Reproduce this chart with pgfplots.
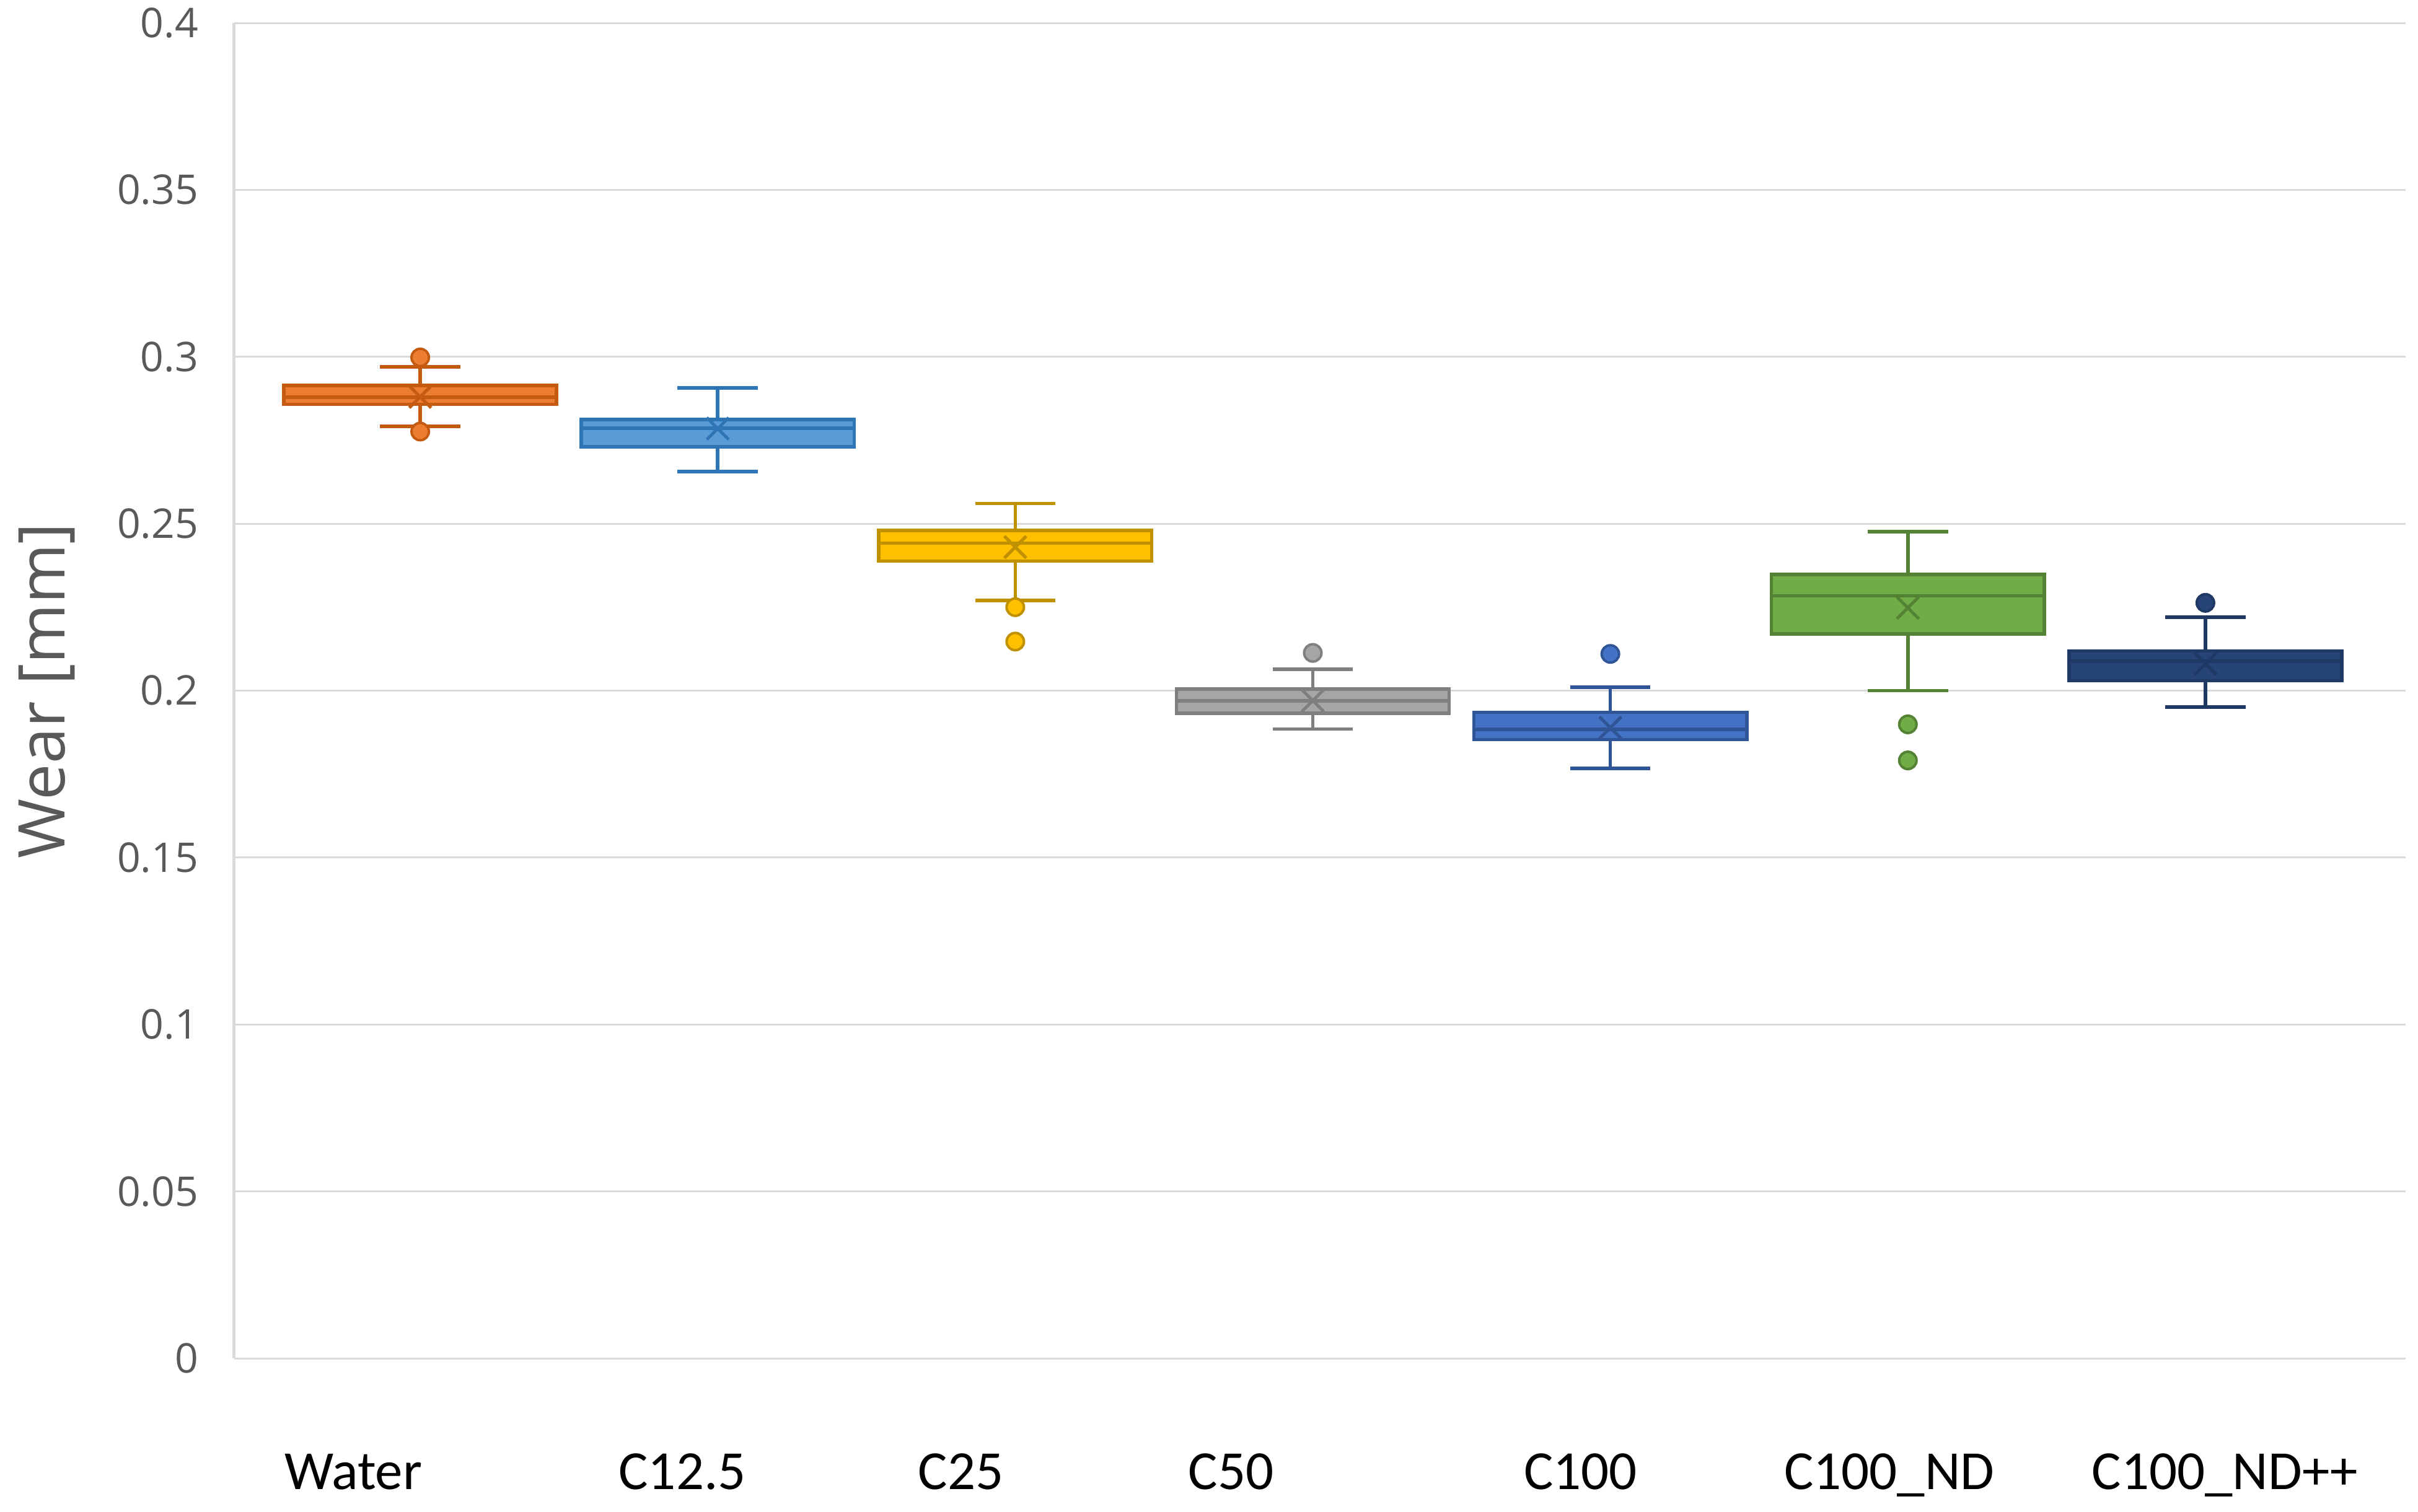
\documentclass[border=0pt]{standalone}
\usepackage{fontspec}
\setmainfont{Carlito}
\newfontfamily\osans{Open Sans}
\usepackage{pgfplots}
\pgfplotsset{compat=1.18}
\definecolor{gridgray}{HTML}{D9D9D9}
\definecolor{tickgray}{HTML}{595959}
\definecolor{wf}{HTML}{ED7D31}\definecolor{wb}{HTML}{C55A11}
\definecolor{af}{HTML}{5B9BD5}\definecolor{ab}{HTML}{2E75B6}
\definecolor{bf}{HTML}{FFC000}\definecolor{bb}{HTML}{BF9000}
\definecolor{cf}{HTML}{A5A5A5}\definecolor{cb}{HTML}{7F7F7F}
\definecolor{df}{HTML}{4472C4}\definecolor{db}{HTML}{2F5597}
\definecolor{ef}{HTML}{70AD47}\definecolor{eb}{HTML}{548235}
\definecolor{ff}{HTML}{264478}\definecolor{fb}{HTML}{1F3864}
\pgfplotsset{
  wsk/.style={draw=#1, line width=0.55pt, mark=none, solid},
  bxs/.style 2 args={draw=#2, fill=#1, line width=0.55pt, mark=none, solid},
  mn/.style={only marks, mark=x, mark size=2.5pt, draw=#1, line width=0.5pt},
  ol/.style 2 args={only marks, mark=*, mark size=1.4pt, draw=#2, fill=#1, line width=0.4pt},
}
\begin{document}
\begin{tikzpicture}
\path[use as bounding box] (-37.8pt,-24.7pt) rectangle (352.4pt,219.2pt);
\begin{axis}[
  scale only axis, width=350.4pt, height=215.5pt,
  xmin=0.375, xmax=7.673, ymin=0, ymax=0.4,
  axis line style={draw=none},
  major tick length=0pt,
  ymajorgrids, grid style={draw=gridgray, line width=0.3pt},
  ytick={0,0.05,0.1,0.15,0.2,0.25,0.3,0.35,0.4},
  yticklabels={0,0.05,0.1,0.15,0.2,0.25,0.3,0.35,0.4},
  yticklabel style={font=\osans\fontsize{6.6}{7}\selectfont, text=tickgray, anchor=east, inner sep=0pt, xshift=-5.6pt},
  xtick={0.775,1.881,2.817,3.725,4.9,5.9375,7.065},
  xticklabels={Water,C12.5,C25,C50,C100,C100\_ND,C100\_ND++},
  xticklabel style={font=\fontsize{8.9}{10}\selectfont, text=black, anchor=base, inner sep=0pt, yshift=-21.1pt},
  clip=false,
]
\draw[gridgray, line width=0.5pt] (rel axis cs:0,0) -- (rel axis cs:0,1);
\node[rotate=90, anchor=base, font=\osans\fontsize{10.4}{12}\selectfont, text=tickgray, inner sep=0pt] at ([xshift=-27.3pt]rel axis cs:0,0.5) {Wear [mm]};

% ---------- Water (pos 1)
\addplot[wsk=wb] coordinates {(1,0.2792) (1,0.297)};
\addplot[wsk=wb] coordinates {(0.865,0.297) (1.135,0.297)};
\addplot[wsk=wb] coordinates {(0.865,0.2792) (1.135,0.2792)};
\addplot[bxs={wf}{wb}] coordinates {(0.5415,0.2858) (1.4585,0.2858) (1.4585,0.2914) (0.5415,0.2914)} -- cycle;
\addplot[wsk=wb] coordinates {(0.5415,0.2879) (1.4585,0.2879)};
\addplot[mn=wb] coordinates {(1,0.288)};
\addplot[ol={wf}{wb}] coordinates {(1,0.2998) (1,0.2776)};

% ---------- C12.5 (pos 2)
\addplot[wsk=ab] coordinates {(2,0.2656) (2,0.2907)};
\addplot[wsk=ab] coordinates {(1.865,0.2907) (2.135,0.2907)};
\addplot[wsk=ab] coordinates {(1.865,0.2656) (2.135,0.2656)};
\addplot[bxs={af}{ab}] coordinates {(1.5415,0.273) (2.4585,0.273) (2.4585,0.2812) (1.5415,0.2812)} -- cycle;
\addplot[wsk=ab] coordinates {(1.5415,0.2786) (2.4585,0.2786)};
\addplot[mn=ab] coordinates {(2,0.2785)};

% ---------- C25 (pos 3)
\addplot[wsk=bb] coordinates {(3,0.227) (3,0.2561)};
\addplot[wsk=bb] coordinates {(2.865,0.2561) (3.135,0.2561)};
\addplot[wsk=bb] coordinates {(2.865,0.227) (3.135,0.227)};
\addplot[bxs={bf}{bb}] coordinates {(2.5415,0.2388) (3.4585,0.2388) (3.4585,0.248) (2.5415,0.248)} -- cycle;
\addplot[wsk=bb] coordinates {(2.5415,0.2442) (3.4585,0.2442)};
\addplot[mn=bb] coordinates {(3,0.243)};
\addplot[ol={bf}{bb}] coordinates {(3,0.225) (3,0.2147)};

% ---------- C50 (pos 4)
\addplot[wsk=cb] coordinates {(4,0.1885) (4,0.2064)};
\addplot[wsk=cb] coordinates {(3.865,0.2064) (4.135,0.2064)};
\addplot[wsk=cb] coordinates {(3.865,0.1885) (4.135,0.1885)};
\addplot[bxs={cf}{cb}] coordinates {(3.5415,0.1932) (4.4585,0.1932) (4.4585,0.2005) (3.5415,0.2005)} -- cycle;
\addplot[wsk=cb] coordinates {(3.5415,0.1969) (4.4585,0.1969)};
\addplot[mn=cb] coordinates {(4,0.197)};
\addplot[ol={cf}{cb}] coordinates {(4,0.2113)};

% ---------- C100 (pos 5)
\addplot[wsk=db] coordinates {(5,0.1767) (5,0.201)};
\addplot[wsk=db] coordinates {(4.865,0.201) (5.135,0.201)};
\addplot[wsk=db] coordinates {(4.865,0.1767) (5.135,0.1767)};
\addplot[bxs={df}{db}] coordinates {(4.5415,0.1853) (5.4585,0.1853) (5.4585,0.1935) (4.5415,0.1935)} -- cycle;
\addplot[wsk=db] coordinates {(4.5415,0.1884) (5.4585,0.1884)};
\addplot[mn=db] coordinates {(5,0.1889)};
\addplot[ol={df}{db}] coordinates {(5,0.211)};

% ---------- C100_ND (pos 6)
\addplot[wsk=eb] coordinates {(6,0.2) (6,0.2476)};
\addplot[wsk=eb] coordinates {(5.865,0.2476) (6.135,0.2476)};
\addplot[wsk=eb] coordinates {(5.865,0.2) (6.135,0.2)};
\addplot[bxs={ef}{eb}] coordinates {(5.5415,0.217) (6.4585,0.217) (6.4585,0.2348) (5.5415,0.2348)} -- cycle;
\addplot[wsk=eb] coordinates {(5.5415,0.2284) (6.4585,0.2284)};
\addplot[mn=eb] coordinates {(6,0.2248)};
\addplot[ol={ef}{eb}] coordinates {(6,0.1899) (6,0.1791)};

% ---------- C100_ND++ (pos 7)
\addplot[wsk=fb] coordinates {(7,0.1951) (7,0.222)};
\addplot[wsk=fb] coordinates {(6.865,0.222) (7.135,0.222)};
\addplot[wsk=fb] coordinates {(6.865,0.1951) (7.135,0.1951)};
\addplot[bxs={ff}{fb}] coordinates {(6.5415,0.203) (7.4585,0.203) (7.4585,0.2119) (6.5415,0.2119)} -- cycle;
\addplot[wsk=fb] coordinates {(6.5415,0.2088) (7.4585,0.2088)};
\addplot[mn=fb] coordinates {(7,0.208)};
\addplot[ol={ff}{fb}] coordinates {(7,0.2263)};
\end{axis}
\end{tikzpicture}
\end{document}
